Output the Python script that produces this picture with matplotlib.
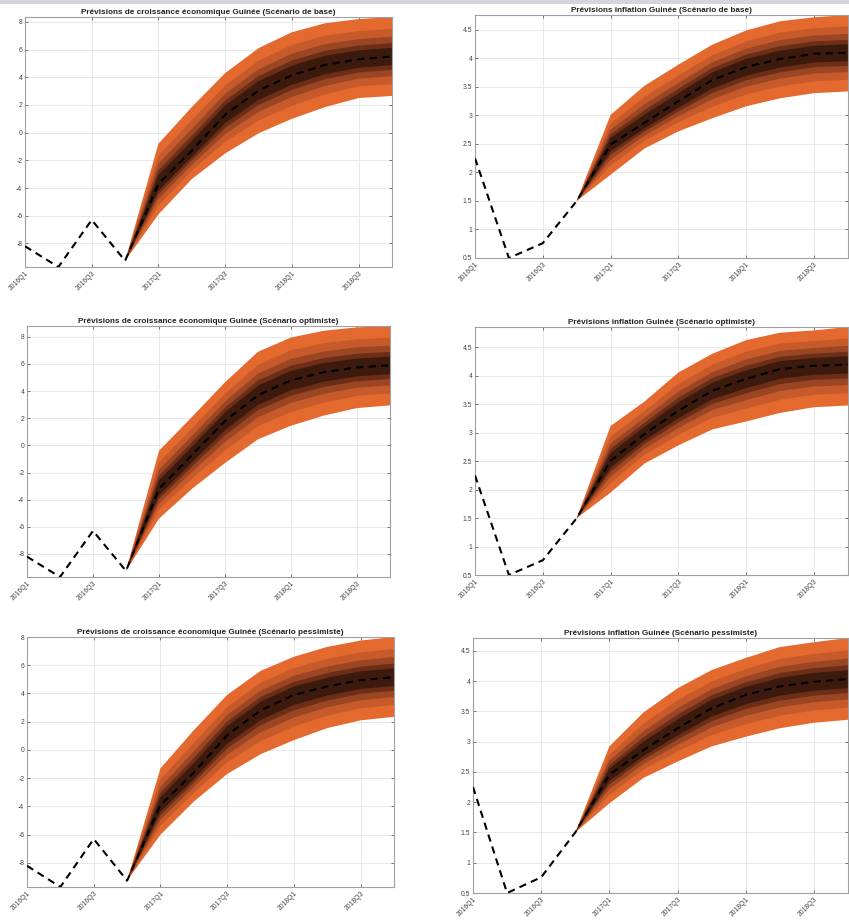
import matplotlib
matplotlib.use("Agg")
import matplotlib.pyplot as plt
import numpy as np
from matplotlib.patches import Rectangle

plt.rcParams['font.family'] = ['Liberation Sans', 'DejaVu Sans']
plt.rcParams['axes.unicode_minus'] = False

# ---------------- data ----------------
quarters = ["2016Q1", "2016Q2", "2016Q3", "2016Q4",
            "2017Q1", "2017Q2", "2017Q3", "2017Q4",
            "2018Q1", "2018Q2", "2018Q3", "2018Q4"]
tick_quarters = ["2016Q1", "2016Q3", "2017Q1", "2017Q3", "2018Q1", "2018Q3"]

growth_hist = [-8.2, -9.7, -6.3, -9.25]
inflation_hist = [2.25, 0.5, 0.76, 1.5]

# forecasts 2017Q1 .. 2018Q4
growth_base_median = [-3.7, -1.3, 1.3, 3.05, 4.15, 4.9, 5.3, 5.5]
growth_base_upper = [-0.8, 1.85, 4.3, 6.1, 7.25, 7.9, 8.2, 8.35]
growth_base_lower = [-5.9, -3.35, -1.5, -0.05, 1.0, 1.85, 2.5, 2.65]

growth_opt_median = [-3.2, -0.7, 1.8, 3.7, 4.8, 5.4, 5.75, 5.9]
growth_opt_upper = [-0.4, 2.1, 4.65, 6.9, 7.95, 8.45, 8.7, 8.8]
growth_opt_lower = [-5.4, -3.2, -1.3, 0.45, 1.45, 2.2, 2.75, 2.95]

growth_pess_median = [-3.9, -1.6, 1.05, 2.8, 3.9, 4.5, 4.95, 5.15]
growth_pess_upper = [-1.3, 1.4, 3.9, 5.6, 6.6, 7.3, 7.75, 8.0]
growth_pess_lower = [-6.0, -3.65, -1.7, -0.3, 0.7, 1.55, 2.1, 2.35]

infl_base_median = [2.49, 2.87, 3.25, 3.62, 3.85, 3.99, 4.08, 4.1]
infl_base_upper = [3.01, 3.52, 3.89, 4.24, 4.49, 4.65, 4.72, 4.76]
infl_base_lower = [1.96, 2.42, 2.72, 2.95, 3.16, 3.3, 3.39, 3.42]

infl_opt_median = [2.51, 2.98, 3.39, 3.74, 3.95, 4.12, 4.18, 4.2]
infl_opt_upper = [3.12, 3.55, 4.06, 4.39, 4.63, 4.76, 4.8, 4.86]
infl_opt_lower = [1.95, 2.46, 2.78, 3.06, 3.2, 3.35, 3.45, 3.48]

infl_pess_median = [2.45, 2.86, 3.22, 3.55, 3.77, 3.91, 3.99, 4.03]
infl_pess_upper = [2.92, 3.48, 3.88, 4.18, 4.38, 4.56, 4.64, 4.71]
infl_pess_lower = [1.98, 2.4, 2.67, 2.92, 3.08, 3.22, 3.31, 3.36]

# relative width of each fan band (outer -> inner)
band_fractions = [1.0, 0.7, 0.5, 0.34, 0.22]
band_colors = ['#E4692F', '#C65A2A', '#9A4523', '#6C2E17', '#3C1B0E']

growth_yticks = [-8, -6, -4, -2, 0, 2, 4, 6, 8]
growth_yticklabels = ["-8", "-6", "-4", "-2", "0", "2", "4", "6", "8"]
infl_yticks = [0.5, 1, 1.5, 2, 2.5, 3, 3.5, 4, 4.5]
infl_yticklabels = ["0.5", "1", "1.5", "2", "2.5", "3", "3.5", "4", "4.5"]

panels = [
    ("Prévisions de croissance économique Guinée (Scénario de base)", growth_hist,
     growth_base_median, growth_base_upper, growth_base_lower, growth_yticks, growth_yticklabels),
    ("Prévisions inflation Guinée (Scénario de base)", inflation_hist,
     infl_base_median, infl_base_upper, infl_base_lower, infl_yticks, infl_yticklabels),
    ("Prévisions de croissance économique Guinée (Scénario optimiste)", growth_hist,
     growth_opt_median, growth_opt_upper, growth_opt_lower, growth_yticks, growth_yticklabels),
    ("Prévisions inflation Guinée (Scénario optimiste)", inflation_hist,
     infl_opt_median, infl_opt_upper, infl_opt_lower, infl_yticks, infl_yticklabels),
    ("Prévisions de croissance économique Guinée (Scénario pessimiste)", growth_hist,
     growth_pess_median, growth_pess_upper, growth_pess_lower, growth_yticks, growth_yticklabels),
    ("Prévisions inflation Guinée (Scénario pessimiste)", inflation_hist,
     infl_pess_median, infl_pess_upper, infl_pess_lower, infl_yticks, infl_yticklabels),
]

# ---------------- layout (pixel boxes: left, right, top, bottom) ----------------
W, H = 849, 923
boxes = [
    (25, 392, 17, 267),
    (475, 848, 15, 258),
    (27, 390, 326, 577),
    (475, 848, 327, 575),
    (27, 394, 637, 887),
    (473, 848, 638, 893),
]

fig = plt.figure(figsize=(W / 100, H / 100), dpi=100)
fig.patches.append(Rectangle((0, 1 - 4 / H), 1, 4 / H, transform=fig.transFigure,
                             facecolor='#d3d7dd', edgecolor='none', zorder=0))

x_all = np.arange(len(quarters))
n_hist = len(growth_hist)
tick_pos = [quarters.index(q) for q in tick_quarters]

for (title, hist, med, up, lo, yt, ytl), (l, r, t, b) in zip(panels, boxes):
    ax = fig.add_axes([l / W, 1 - b / H, (r - l) / W, (b - t) / H])
    hist = np.array(hist, dtype=float)
    med_f = np.concatenate([[hist[-1]], med])
    up_f = np.concatenate([[hist[-1]], up])
    lo_f = np.concatenate([[hist[-1]], lo])
    x_f = x_all[n_hist - 1:]
    for frac, col in zip(band_fractions, band_colors):
        ax.fill_between(x_f, med_f + frac * (up_f - med_f), med_f - frac * (med_f - lo_f),
                        facecolor=col, edgecolor='none', zorder=2)
    series = np.concatenate([hist, med])
    ax.plot(x_all, series, color='black', lw=1.5, linestyle=(0, (3.5, 2.5)), zorder=3)

    ax.set_xlim(0, len(quarters) - 1)
    ax.set_ylim(min(hist.min(), min(lo)), max(up))
    ax.set_xticks(tick_pos)
    ax.set_xticklabels(tick_quarters, rotation=45, ha='right', rotation_mode='anchor')
    ax.set_yticks(yt)
    ax.set_yticklabels(ytl)
    ax.tick_params(axis='both', labelsize=4.9, colors='#444444', direction='in', length=2,
                   width=0.5, top=True, right=True, pad=2)
    ax.grid(True, color='#e4e4e4', lw=0.6, zorder=0)
    ax.set_axisbelow(True)
    for s in ax.spines.values():
        s.set_color('#a0a0a0')
        s.set_linewidth(0.8)
    ax.set_title(title, fontsize=5.9, fontweight='bold', color='#222222', pad=2)

fig.savefig("out.png", dpi=100)
